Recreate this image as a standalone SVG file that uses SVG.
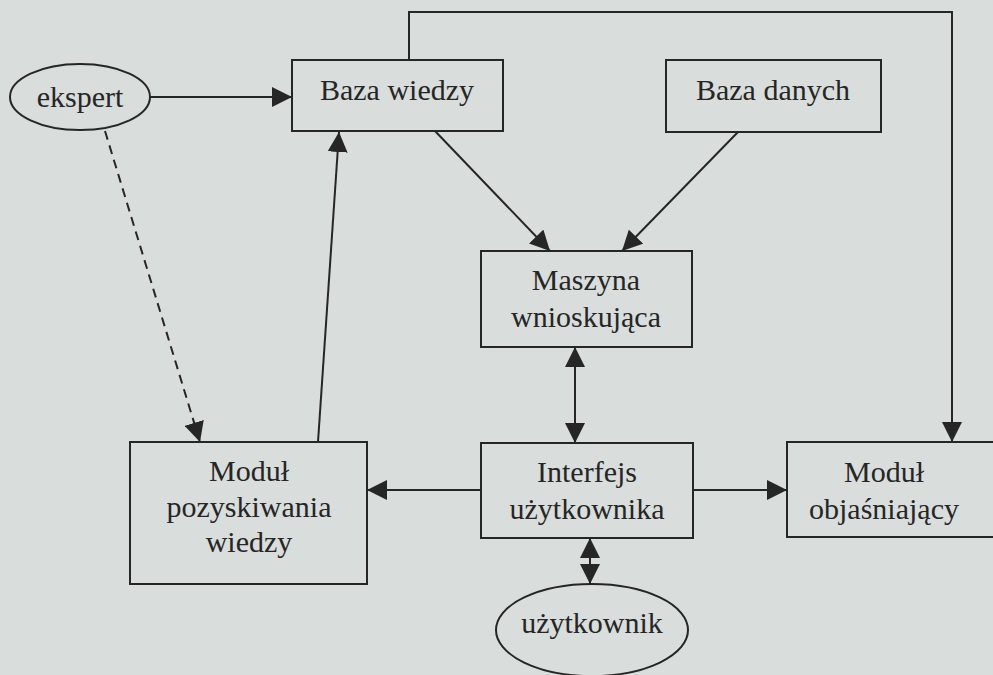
<svg xmlns="http://www.w3.org/2000/svg" width="993" height="675" viewBox="0 0 993 675">
  <style>
    .box { fill: none; stroke: #262626; stroke-width: 2; }
    .line { fill: none; stroke: #262626; stroke-width: 2; }
    .dash { stroke-dasharray: 9 6; }
    .label { font-family: "Liberation Serif", "Times New Roman", serif; font-size: 30px; fill: #262626; text-anchor: middle; }
  </style>
  <defs>
    <marker id="arrow" markerUnits="userSpaceOnUse" markerWidth="21" markerHeight="20" refX="20" refY="10" orient="auto-start-reverse" viewBox="0 0 21 20">
      <path d="M0,0 L20,10 L0,20 z" fill="#262626"/>
    </marker>
  </defs>

  <!-- paper background -->
  <rect x="0" y="0" width="993" height="675" fill="#d9dddb"/>

  <g id="connectors">
    <!-- ekspert -> Baza wiedzy -->
    <line class="line" x1="150" y1="97" x2="292" y2="97" marker-end="url(#arrow)"/>
    <!-- ekspert -> Moduł pozyskiwania wiedzy (dashed) -->
    <line class="line dash" x1="105" y1="131" x2="200" y2="442" marker-end="url(#arrow)"/>
    <!-- Moduł pozyskiwania wiedzy -> Baza wiedzy -->
    <line class="line" x1="318" y1="442" x2="339" y2="132" marker-end="url(#arrow)"/>
    <!-- Baza wiedzy -> Maszyna wnioskująca -->
    <line class="line" x1="435" y1="131" x2="550" y2="251" marker-end="url(#arrow)"/>
    <!-- Baza danych -> Maszyna wnioskująca -->
    <line class="line" x1="738" y1="132" x2="622" y2="251" marker-end="url(#arrow)"/>
    <!-- Baza wiedzy -> Moduł objaśniający (over the top) -->
    <polyline class="line" points="409,60 409,12 952,12 952,442" marker-end="url(#arrow)"/>
    <!-- Maszyna wnioskująca <-> Interfejs użytkownika -->
    <line class="line" x1="575" y1="347" x2="575" y2="443" marker-start="url(#arrow)" marker-end="url(#arrow)"/>
    <!-- Interfejs użytkownika -> Moduł objaśniający -->
    <line class="line" x1="693" y1="490" x2="787" y2="490" marker-end="url(#arrow)"/>
    <!-- Interfejs użytkownika -> Moduł pozyskiwania wiedzy -->
    <line class="line" x1="481" y1="490" x2="367" y2="490" marker-end="url(#arrow)"/>
    <!-- Interfejs użytkownika <-> użytkownik -->
    <line class="line" x1="590" y1="538" x2="590" y2="559" marker-start="url(#arrow)"/>
    <line class="line" x1="590" y1="559" x2="590" y2="584" marker-end="url(#arrow)"/>
  </g>

  <g id="ekspert">
    <ellipse class="box" cx="80" cy="97" rx="70" ry="33"/>
    <text class="label" x="80" y="107">ekspert</text>
  </g>

  <g id="baza-wiedzy">
    <rect class="box" x="292" y="60" width="211" height="71"/>
    <text class="label" x="397" y="100">Baza wiedzy</text>
  </g>

  <g id="baza-danych">
    <rect class="box" x="666" y="60" width="215" height="72"/>
    <text class="label" x="773" y="100">Baza danych</text>
  </g>

  <g id="maszyna-wnioskujaca">
    <rect class="box" x="481" y="251" width="211" height="96"/>
    <text class="label" x="586" y="290">Maszyna</text>
    <text class="label" x="586" y="327">wnioskująca</text>
  </g>

  <g id="modul-pozyskiwania-wiedzy">
    <rect class="box" x="130" y="442" width="237" height="142"/>
    <text class="label" x="249" y="481">Moduł</text>
    <text class="label" x="249" y="517">pozyskiwania</text>
    <text class="label" x="249" y="552">wiedzy</text>
  </g>

  <g id="interfejs-uzytkownika">
    <rect class="box" x="481" y="443" width="212" height="95"/>
    <text class="label" x="587" y="482">Interfejs</text>
    <text class="label" x="587" y="519">użytkownika</text>
  </g>

  <g id="modul-objasniajacy">
    <rect class="box" x="787" y="442" width="220" height="95"/>
    <text class="label" x="884" y="482">Moduł</text>
    <text class="label" x="884" y="519">objaśniający</text>
  </g>

  <g id="uzytkownik">
    <ellipse class="box" cx="592" cy="630" rx="96" ry="46"/>
    <text class="label" x="592" y="633">użytkownik</text>
  </g>
</svg>
